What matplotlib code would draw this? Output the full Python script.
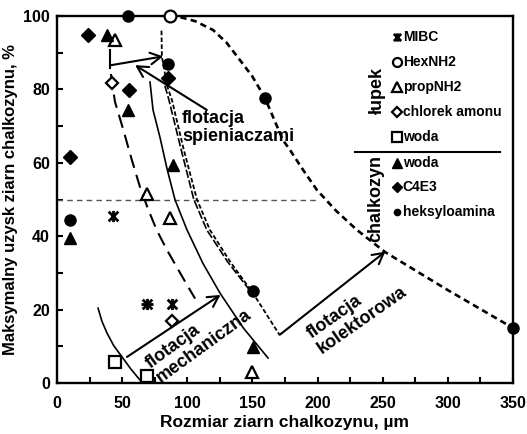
import matplotlib
matplotlib.use('Agg')
import matplotlib.pyplot as plt
from matplotlib.path import Path
from matplotlib.ticker import MultipleLocator

plt.rcParams['font.family'] = ['Liberation Sans', 'DejaVu Sans']
plt.rcParams['font.weight'] = 'bold'

# ---------------- data: łupek (shale) ----------------
mibc_x = [43, 69, 88]
mibc_y = [45.5, 21.5, 21.5]
mibc2_x = [69]
mibc2_y = [21.5]
hexnh2_x = [87]
hexnh2_y = [100]
propnh2_x = [44.5, 69, 87, 150]
propnh2_y = [93.5, 51.5, 45, 3]
chlor_x = [42, 88]
chlor_y = [81.7, 17]
woda_l_x = [44.5, 69]
woda_l_y = [5.7, 1.8]

# ---------------- data: chalkozyn ----------------
woda_c_x = [10, 38.5, 54.5, 89, 150.5]
woda_c_y = [39.5, 94.8, 74.5, 59.5, 9.8]
c4e3_x = [10, 24, 55, 85]
c4e3_y = [61.6, 94.8, 79.8, 83]
heks_x = [10, 54.5, 85, 150.5, 159.5, 350]
heks_y = [44.5, 100, 87, 25, 77.7, 15]

# ---------------- guide curves ----------------
outer_x = [86.7, 94.4, 106, 119.7, 130, 140.4, 150, 159.6, 167, 173.4, 178.8, 189, 199.5, 214, 230.2, 251.7, 300, 350]
outer_y = [100, 99.7, 98.6, 96.2, 92.8, 88, 83.5, 77.7, 71.5, 66.2, 63.5, 58, 52.6, 47, 41.7, 35.7, 25.3, 15]
longdash_x = [41.4, 44.5, 50.9, 57, 63.7, 70, 76.5, 84, 91.9, 99, 106]
longdash_y = [84.2, 76.6, 69, 61.3, 53.4, 47.3, 41.7, 36.5, 31.6, 27.2, 23]
solid_x = [71.4, 73.7, 79, 84.5, 90.6, 99.8, 112, 125.1, 143, 162]
solid_y = [82, 74.4, 67, 58.3, 49.9, 41.7, 32.6, 24.5, 15, 6.8]
arc_x = [31.5, 34.5, 38.4, 43.5, 49.9, 56.5, 63.7, 66]
arc_y = [20.4, 16.8, 13.6, 10.2, 7.1, 3.9, 0.8, 0]
dbl1_x = [80.2, 80.5, 84.5, 88.3, 97, 107.4, 117.4, 133, 150.4, 171]
dbl1_y = [96, 89, 81, 77, 64, 50, 41.7, 33, 24.5, 13]
dbl2_x = [82.8, 86, 95, 105, 115, 131, 148.5]
dbl2_y = [81, 77, 64, 50, 41.7, 33, 25]
ref_x = [0, 200]
ref_y = [50, 50]

# ---------------- arrows ----------------
arr_spien1 = ((41.5, 86.6), (81.5, 89))
bar_x = [40.8, 40.8]
bar_y = [85.7, 90.6]
arr_spien2 = ((115, 74.4), (60, 86.6))
arr_mech = ((53.7, 7.1), (125.5, 24))
arr_kolek = ((171.2, 13.2), (252, 35.8))

fig = plt.figure(figsize=(5.27, 4.34), dpi=100)
ax = fig.add_axes([57 / 527, 1 - 383 / 434, 456 / 527, 367 / 434])
ax.set_xlim(0, 350)
ax.set_ylim(0, 100)

K = 'black'
# guide curves
ax.plot(ref_x, ref_y, color='#555555', lw=1.0, dashes=(4, 3))
ax.plot(outer_x, outer_y, color=K, lw=1.9, dashes=(2.4, 1.6), clip_on=False)
ax.plot(longdash_x, longdash_y, color=K, lw=1.5, dashes=(6.5, 3.5))
ax.plot(solid_x, solid_y, color=K, lw=1.2)
ax.plot(arc_x, arc_y, color=K, lw=1.2)
ax.plot(dbl1_x, dbl1_y, color=K, lw=1.3, dashes=(2.5, 1.3))
ax.plot(dbl2_x, dbl2_y, color=K, lw=1.2, dashes=(5, 1.5))

# arrows
aprops = dict(arrowstyle='->,head_length=0.55,head_width=0.3', lw=1.5, color=K,
              shrinkA=0, shrinkB=0, mutation_scale=14)
for (s, e) in [arr_spien1, arr_spien2, arr_mech, arr_kolek]:
    ax.annotate('', xy=e, xytext=s, arrowprops=aprops)
ax.plot(bar_x, bar_y, color=K, lw=1.5)

# markers
star_path = Path([(-1, -1), (1, 1), (-1, 1), (1, -1), (0, -1.15), (0, 1.15)],
                 [Path.MOVETO, Path.LINETO, Path.MOVETO, Path.LINETO, Path.MOVETO, Path.LINETO])

styles = {
    'mibc': dict(marker=star_path, ms=8, mew=2.0, mec=K, mfc='none'),
    'mibc2': dict(marker='_', ms=9, mew=2.0, mec=K),
    'hex': dict(marker='o', ms=8.5, mew=1.6, mec=K, mfc='white'),
    'prop': dict(marker='^', ms=9, mew=1.6, mec=K, mfc='white'),
    'chlor': dict(marker='D', ms=6.5, mew=1.6, mec=K, mfc='white'),
    'woda_l': dict(marker='s', ms=9, mew=1.6, mec=K, mfc='white'),
    'woda_c': dict(marker='^', ms=9, mew=1, mec=K, mfc=K),
    'c4e3': dict(marker='D', ms=7, mew=1, mec=K, mfc=K),
    'heks': dict(marker='o', ms=8, mew=1, mec=K, mfc=K),
}

series = [
    (mibc_x, mibc_y, 'mibc'), (mibc2_x, mibc2_y, 'mibc2'), (hexnh2_x, hexnh2_y, 'hex'),
    (propnh2_x, propnh2_y, 'prop'), (chlor_x, chlor_y, 'chlor'), (woda_l_x, woda_l_y, 'woda_l'),
    (woda_c_x, woda_c_y, 'woda_c'), (c4e3_x, c4e3_y, 'c4e3'), (heks_x, heks_y, 'heks'),
]
for xs, ys, st in series:
    ax.plot(xs, ys, ls='none', clip_on=False, zorder=5, **styles[st])

# annotation texts
ax.text(96, 74.5, 'flotacja\nspieniaczami', ha='left', va='top', fontsize=13,
        fontweight='bold', linespacing=1.1)
ax.text(109, 12.1, 'flotacja\nmechaniczna', rotation=36, ha='center', va='center',
        multialignment='left', fontsize=13, fontweight='bold', linespacing=1.05)
ax.text(230, 19.2, 'flotacja\nkolektorowa', rotation=35, ha='center', va='center',
        multialignment='left', fontsize=13, fontweight='bold', linespacing=1.05)

# custom legend
leg_names = ['MIBC', 'HexNH2', 'propNH2', 'chlorek amonu', 'woda', 'woda', 'C4E3', 'heksyloamina']
leg_keys = ['mibc', 'hex', 'prop', 'chlor', 'woda_l', 'woda_c', 'c4e3', 'heks']
leg_y = [0.944, 0.875, 0.806, 0.739, 0.671, 0.599, 0.533, 0.467]
leg_ms = [6, 6.5, 6.5, 5, 7, 7, 5.5, 4.5]
for name, key, yy, msz in zip(leg_names, leg_keys, leg_y, leg_ms):
    st = dict(styles[key])
    st['ms'] = msz
    ax.plot([0.746], [yy], transform=ax.transAxes, ls='none', clip_on=False, **st)
    ax.text(0.758, yy, name, transform=ax.transAxes, ha='left', va='center',
            fontsize=10, fontweight='bold')
ax.plot([0.654, 0.971], [0.630, 0.630], transform=ax.transAxes, color=K, lw=1.5)
ax.text(0.702, 0.798, 'łupek', transform=ax.transAxes, rotation=90, ha='center',
        va='center', fontsize=13, fontweight='bold')
ax.text(0.699, 0.503, 'chalkozyn', transform=ax.transAxes, rotation=90, ha='center',
        va='center', fontsize=13, fontweight='bold')

# axes styling
ax.xaxis.set_major_locator(MultipleLocator(50))
ax.xaxis.set_minor_locator(MultipleLocator(25))
ax.yaxis.set_major_locator(MultipleLocator(20))
ax.yaxis.set_minor_locator(MultipleLocator(10))
ax.tick_params(which='both', direction='in', length=4, width=1.5, top=False, right=False)
ax.tick_params(axis='x', which='major', pad=9, labelsize=11.5)
ax.tick_params(axis='y', which='major', pad=5, labelsize=11.5)
for sp in ax.spines.values():
    sp.set_linewidth(1.7)
ax.set_xlabel('Rozmiar ziarn chalkozynu, µm', fontsize=12.5, fontweight='bold', labelpad=3)
ax.set_ylabel('Maksymalny uzysk ziarn chalkozynu, %', fontsize=12, fontweight='bold', labelpad=4)

fig.savefig('out.png', dpi=100)
